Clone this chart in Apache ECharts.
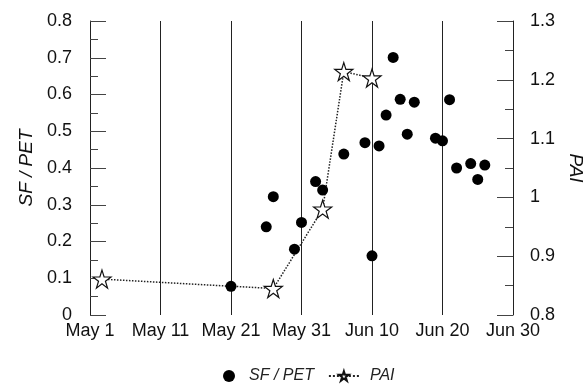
<!DOCTYPE html>
<html>
<head>
    <meta charset="utf-8">
    <title>SF / PET and PAI</title>
    <script src="https://cdn.jsdelivr.net/npm/echarts@6/dist/echarts.min.js"></script>
    <style>
      body { margin: 0; background: #fff; }
      #main { width: 585px; height: 390px; }
    </style>
</head>
<body>
    <div id="main"></div>
    <script type="text/javascript">

// days counted from May 1 (day 0)
let dateLabels = ['May 1', 'May 11', 'May 21', 'May 31', 'Jun 10', 'Jun 20', 'Jun 30']

// SF / PET (left axis)
let sfDays = [20, 25, 26, 29, 30, 32, 33, 36, 39, 40, 41, 42, 43, 44, 45, 46, 49, 50, 51, 52, 54, 55, 56]
let sfValues = [0.078, 0.24, 0.322, 0.179, 0.252, 0.363, 0.34, 0.438, 0.469, 0.161, 0.46, 0.544, 0.701,
                0.587, 0.492, 0.579, 0.481, 0.474, 0.586, 0.4, 0.412, 0.369, 0.408]

// PAI (right axis)
let paiDays = [1.7, 26, 33, 36, 40]
let paiValues = [0.861, 0.845, 0.98, 1.214, 1.203]

let star = 'path://M50,0 L61.2,34.5 L97.6,34.5 L68.2,55.9 L79.4,90.5 L50,69.1 L20.6,90.5 L31.8,55.9 L2.4,34.5 L38.8,34.5 Z'
let font = 'Liberation Sans'

var option = {
    animation: false,
    textStyle: { fontFamily: font },
    grid: { left: 90, right: 72, top: 21, bottom: 75, outerBoundsMode: 'none' },
    legend: {
        bottom: 1,
        left: 218,
        itemGap: 14,
        itemWidth: 30,
        itemHeight: 12,
        textStyle: { fontFamily: font, fontStyle: 'italic', fontSize: 16, color: '#222' },
        data: [
            { name: 'SF / PET', icon: 'circle' },
            { name: 'PAI', textStyle: { padding: [0, 0, 0, 6] } }
        ]
    },
    xAxis: {
        type: 'value',
        min: 0, max: 60, interval: 10,
        axisLine: { show: false },
        axisTick: { show: false },
        axisLabel: {
            fontSize: 18, color: '#111', margin: 7,
            formatter: v => dateLabels[v / 10]
        },
        splitLine: { show: true, lineStyle: { color: '#222', width: 1 } }
    },
    yAxis: [
        {
            type: 'value',
            min: 0, max: 0.8, interval: 0.1,
            name: 'SF / PET',
            nameLocation: 'middle',
            nameGap: 48,
            nameTextStyle: { fontStyle: 'italic', fontSize: 19, color: '#111' },
            axisLine: { show: true, lineStyle: { color: '#222' } },
            axisTick: { show: true, inside: true, length: 16, lineStyle: { color: '#444' } },
            minorTick: { show: true, splitNumber: 2, length: 8, lineStyle: { color: '#444' } },
            axisLabel: { fontSize: 18, color: '#111', margin: 18 },
            splitLine: { show: false }
        },
        {
            type: 'value',
            min: 0.8, max: 1.3, interval: 0.1,
            position: 'right',
            name: 'PAI',
            nameLocation: 'middle',
            nameRotate: -90,
            nameGap: 52,
            nameTextStyle: { fontStyle: 'italic', fontSize: 19, color: '#111' },
            axisLine: { show: true, lineStyle: { color: '#222' } },
            axisTick: { show: true, inside: true, length: 16, lineStyle: { color: '#444' } },
            minorTick: { show: true, splitNumber: 2, length: 8, lineStyle: { color: '#444' } },
            axisLabel: {
                fontSize: 18, color: '#111', margin: 17,
                formatter: v => String(Math.round(v * 10) / 10)
            },
            splitLine: { show: false }
        }
    ],
    series: [
        {
            name: 'PAI',
            type: 'line',
            yAxisIndex: 1,
            data: paiDays.map((d, i) => [d, paiValues[i]]),
            symbol: star,
            symbolSize: 18,
            itemStyle: { color: '#fff', borderColor: '#111', borderWidth: 1.2 },
            lineStyle: { color: '#222', width: 1.5, type: 'dotted' },
            z: 2
        },
        {
            name: 'SF / PET',
            type: 'scatter',
            yAxisIndex: 0,
            data: sfDays.map((d, i) => [d, sfValues[i]]),
            symbol: 'circle',
            symbolSize: 11,
            itemStyle: { color: '#000', opacity: 1 },
            z: 3
        }
    ]
}

echarts.init(document.getElementById('main')).setOption(option)

    </script>
</body>
</html>
